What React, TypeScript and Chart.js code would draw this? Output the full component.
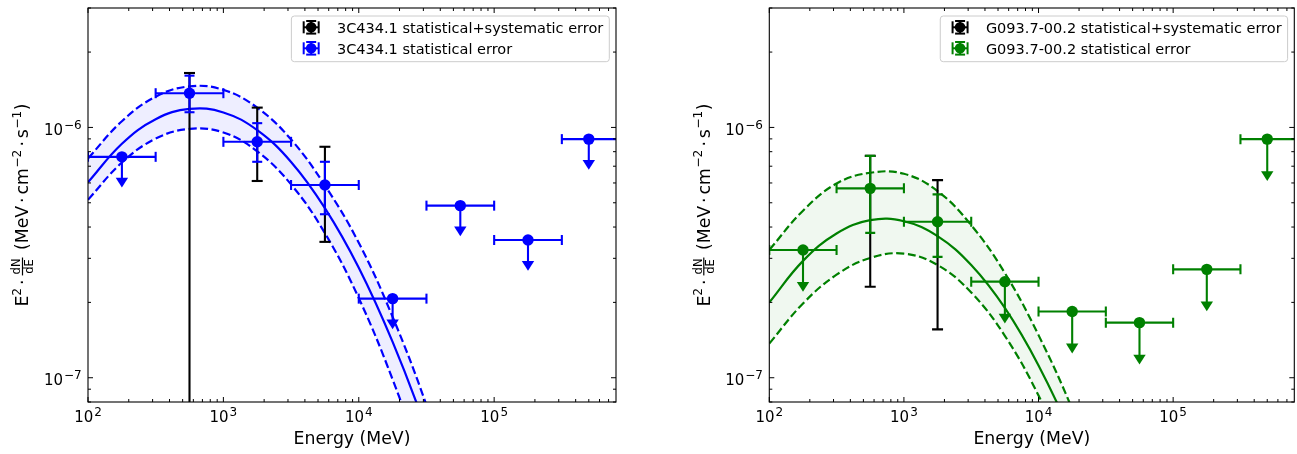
import React, { useEffect, useRef } from "react";
import { Chart, registerables } from "chart.js";

Chart.register(...registerables);

const FONT = "'DejaVu Sans', 'Liberation Sans', sans-serif";

// ---- energy binning (MeV), shared by both sources ----
const energyCenter = [178, 562, 1778, 5623, 17783, 56234, 177828, 500000];
const energyLow = [100, 316, 1000, 3162, 10000, 31623, 100000, 316228];
const energyHigh = [316, 1000, 3162, 10000, 31623, 100000, 316228, 1000000];

// ---- axis ranges / tick decades ----
const xMin = 100;
const xMax = 794328;
const yMin = 8e-8;
const yMax = 3e-6;
const xDecades = [2, 3, 4, 5];
const yDecades = [-7, -6];

// ---- model curve sampling energies (MeV) ----
const modelEnergy = [100, 178, 316, 562, 1000, 1778, 3162, 5623, 10000, 17783, 31623, 56234];

// ---- 3C434.1 ----
const aLabels = ["3C434.1 statistical+systematic error", "3C434.1 statistical error"];
const aFlux = [7.63e-7, 1.37e-6, 8.76e-7, 5.89e-7, 2.07e-7, 4.87e-7, 3.55e-7, 8.98e-7];
const aIsUL = [true, false, false, false, true, true, true, true];
const aStatLow = [null, 1.15e-6, 7.29e-7, 4.5e-7, null, null, null, null];
const aStatHigh = [null, 1.61e-6, 1.04e-6, 7.29e-7, null, null, null, null];
const aTotLow = [null, 1e-10, 6.11e-7, 3.49e-7, null, null, null, null];
const aTotHigh = [null, 1.65e-6, 1.2e-6, 8.37e-7, null, null, null, null];
const aModel = [6.04e-7, 8.61e-7, 1.079e-6, 1.186e-6, 1.148e-6, 9.75e-7, 7.28e-7, 4.76e-7, 2.75e-7, 1.39e-7, 6.18e-8, 2.41e-8];
const aModelHigh = [7.52e-7, 1.059e-6, 1.327e-6, 1.459e-6, 1.413e-6, 1.199e-6, 8.95e-7, 5.86e-7, 3.46e-7, 1.75e-7, 7.78e-8, 3.03e-8];
const aModelLow = [5.14e-7, 7.24e-7, 9.02e-7, 9.86e-7, 9.55e-7, 8.02e-7, 5.92e-7, 3.78e-7, 2.08e-7, 9.84e-8, 4.08e-8, 1.5e-8];

// ---- G093.7-00.2 ----
const bLabels = ["G093.7-00.2 statistical+systematic error", "G093.7-00.2 statistical error"];
const bFlux = [3.24e-7, 5.71e-7, 4.2e-7, 2.42e-7, 1.84e-7, 1.66e-7, 2.71e-7, 8.98e-7];
const bIsUL = [true, false, false, true, true, true, true, true];
const bStatLow = [null, 3.79e-7, 3.04e-7, null, null, null, null, null];
const bStatHigh = [null, 7.7e-7, 5.4e-7, null, null, null, null, null];
const bTotLow = [null, 2.31e-7, 1.56e-7, null, null, null, null, null];
const bTotHigh = [null, 7.7e-7, 6.16e-7, null, null, null, null, null];
const bModel = [2.0e-7, 2.93e-7, 3.77e-7, 4.26e-7, 4.22e-7, 3.68e-7, 2.82e-7, 1.9e-7, 1.12e-7, 5.82e-8, 2.65e-8, 1.1e-8];
const bModelHigh = [3.24e-7, 4.65e-7, 5.97e-7, 6.59e-7, 6.53e-7, 5.57e-7, 4.07e-7, 2.62e-7, 1.48e-7, 7.5e-8, 3.34e-8, 1.4e-8];
const bModelLow = [1.37e-7, 1.98e-7, 2.58e-7, 3.01e-7, 3.13e-7, 2.82e-7, 2.19e-7, 1.47e-7, 8.49e-8, 4.22e-8, 1.79e-8, 7e-9];

type Panel = {
  id: string;
  color: string;
  band: string;
  labels: string[];
  flux: number[];
  isUL: boolean[];
  statLow: (number | null)[];
  statHigh: (number | null)[];
  totLow: (number | null)[];
  totHigh: (number | null)[];
  model: number[];
  modelHigh: number[];
  modelLow: number[];
  ulFactor: number;
};

const panelA: Panel = {
  id: "a", color: "#0000ff", band: "rgba(0,0,255,0.065)", labels: aLabels,
  flux: aFlux, isUL: aIsUL, statLow: aStatLow, statHigh: aStatHigh, totLow: aTotLow, totHigh: aTotHigh,
  model: aModel, modelHigh: aModelHigh, modelLow: aModelLow, ulFactor: 0.754,
};
const panelB: Panel = {
  id: "b", color: "#008000", band: "rgba(0,128,0,0.06)", labels: bLabels,
  flux: bFlux, isUL: bIsUL, statLow: bStatLow, statHigh: bStatHigh, totLow: bTotLow, totHigh: bTotHigh,
  model: bModel, modelHigh: bModelHigh, modelLow: bModelLow, ulFactor: 0.68,
};

function line(ctx: CanvasRenderingContext2D, x1: number, y1: number, x2: number, y2: number) {
  ctx.beginPath();
  ctx.moveTo(x1, y1);
  ctx.lineTo(x2, y2);
  ctx.stroke();
}

function vBar(ctx: CanvasRenderingContext2D, x: number, y1: number, y2: number, cap: number) {
  line(ctx, x, y1, x, y2);
  line(ctx, x - cap, y1, x + cap, y1);
  line(ctx, x - cap, y2, x + cap, y2);
}

function drawErrorBars(chart: any, p: Panel) {
  const { ctx, chartArea: a } = chart;
  const xs = chart.scales.x;
  const ys = chart.scales.y;
  const cap = 5;
  ctx.save();
  ctx.beginPath();
  ctx.rect(a.left, a.top, a.right - a.left, a.bottom - a.top);
  ctx.clip();
  ctx.lineWidth = 2.1;
  ctx.lineCap = "butt";
  // statistical + systematic (black)
  ctx.strokeStyle = "#000000";
  for (let i = 0; i < energyCenter.length; i++) {
    const lo = p.totLow[i];
    const hi = p.totHigh[i];
    if (p.isUL[i] || lo == null || hi == null) continue;
    const x = xs.getPixelForValue(energyCenter[i]);
    vBar(ctx, x, ys.getPixelForValue(lo), ys.getPixelForValue(hi), cap + 0.5);
  }
  // statistical (coloured)
  ctx.strokeStyle = p.color;
  ctx.fillStyle = p.color;
  for (let i = 0; i < energyCenter.length; i++) {
    const x = xs.getPixelForValue(energyCenter[i]);
    const y = ys.getPixelForValue(p.flux[i]);
    const xl = xs.getPixelForValue(energyLow[i]);
    const xh = xs.getPixelForValue(energyHigh[i]);
    line(ctx, xl, y, xh, y);
    line(ctx, xl, y - cap, xl, y + cap);
    line(ctx, xh, y - cap, xh, y + cap);
    if (p.isUL[i]) {
      const tip = ys.getPixelForValue(p.flux[i] * p.ulFactor);
      line(ctx, x, y, x, tip - 8);
      ctx.beginPath();
      ctx.moveTo(x - 6.2, tip - 9.8);
      ctx.lineTo(x + 6.2, tip - 9.8);
      ctx.lineTo(x, tip);
      ctx.closePath();
      ctx.fill();
    } else {
      const lo = p.statLow[i];
      const hi = p.statHigh[i];
      if (lo != null && hi != null) vBar(ctx, x, ys.getPixelForValue(lo), ys.getPixelForValue(hi), cap);
    }
  }
  ctx.restore();
}

function num(m: number, e: number) {
  return Number(`${m}e${e}`);
}

function drawPow10(ctx: CanvasRenderingContext2D, exp: number, x: number, baseline: number, align: "center" | "right") {
  const base = "10";
  const e = exp < 0 ? "\u2212" + String(-exp) : String(exp);
  ctx.font = `15px ${FONT}`;
  const wb = ctx.measureText(base).width;
  ctx.font = `12px ${FONT}`;
  const we = ctx.measureText(e).width;
  const gap = 1;
  const total = wb + gap + we;
  const x0 = align === "center" ? x - total / 2 : x - total;
  ctx.textAlign = "left";
  ctx.textBaseline = "alphabetic";
  ctx.font = `15px ${FONT}`;
  ctx.fillText(base, x0, baseline);
  ctx.font = `12px ${FONT}`;
  ctx.fillText(e, x0 + wb + gap, baseline - 6);
}

function drawFrame(chart: any) {
  const { ctx, chartArea: a } = chart;
  const xs = chart.scales.x;
  const ys = chart.scales.y;
  ctx.save();
  ctx.strokeStyle = "#000000";
  ctx.lineWidth = 1.1;
  ctx.strokeRect(a.left, a.top, a.right - a.left, a.bottom - a.top);
  ctx.lineWidth = 1;
  for (let e = 1; e <= 6; e++) {
    for (let m = 1; m <= 9; m++) {
      const v = num(m, e);
      if (v < xMin * 0.999 || v > xMax * 1.001) continue;
      const px = xs.getPixelForValue(v);
      const len = m === 1 ? 5 : 3;
      line(ctx, px, a.bottom, px, a.bottom - len);
      line(ctx, px, a.top, px, a.top + len);
    }
  }
  for (let e = -9; e <= -5; e++) {
    for (let m = 1; m <= 9; m++) {
      const v = num(m, e);
      if (v < yMin * 0.999 || v > yMax * 1.001) continue;
      const py = ys.getPixelForValue(v);
      const len = m === 1 ? 5 : 3;
      line(ctx, a.left, py, a.left + len, py);
      line(ctx, a.right, py, a.right - len, py);
    }
  }
  ctx.fillStyle = "#000000";
  for (const d of xDecades) {
    drawPow10(ctx, d, xs.getPixelForValue(num(1, d)), a.bottom + 19.7, "center");
  }
  for (const d of yDecades) {
    drawPow10(ctx, d, a.left - 6.3, ys.getPixelForValue(num(1, d)) + 7.7, "right");
  }
  ctx.restore();
}

type Piece = { t: string; size: number; dy: number; padL?: number; padR?: number } | { frac: [string, string] };

function drawAxisLabels(chart: any) {
  const { ctx, chartArea: a } = chart;
  ctx.save();
  ctx.fillStyle = "#000000";
  ctx.font = `17.3px ${FONT}`;
  ctx.textAlign = "center";
  ctx.textBaseline = "alphabetic";
  ctx.fillText("Energy (MeV)", (a.left + a.right) / 2, a.bottom + 42);

  const M = 17.3;
  const S = 12.2;
  const F = 11.5;
  const pieces: Piece[] = [
    { t: "E", size: M, dy: 0 },
    { t: "2", size: S, dy: -7.5 },
    { t: "\u00b7", size: M, dy: 0, padL: 3, padR: 3 },
    { frac: ["dN", "dE"] },
    { t: " (MeV", size: M, dy: 0, padL: 1 },
    { t: "\u00b7", size: M, dy: 0, padL: 3, padR: 3 },
    { t: "cm", size: M, dy: 0 },
    { t: "\u22122", size: S, dy: -7.5, padL: 0.5 },
    { t: "\u00b7", size: M, dy: 0, padL: 3, padR: 3 },
    { t: "s", size: M, dy: 0 },
    { t: "\u22121", size: S, dy: -7.5, padL: 0.5 },
    { t: ")", size: M, dy: 0, padL: 0.5 },
  ];
  const widths = pieces.map((pc) => {
    if ("frac" in pc) {
      ctx.font = `${F}px ${FONT}`;
      return Math.max(ctx.measureText(pc.frac[0]).width, ctx.measureText(pc.frac[1]).width) + 4;
    }
    ctx.font = `${pc.size}px ${FONT}`;
    return ctx.measureText(pc.t).width + (pc.padL || 0) + (pc.padR || 0);
  });
  const total = widths.reduce((s, w) => s + w, 0);
  ctx.translate(a.left - 59.7, (a.top + a.bottom) / 2);
  ctx.rotate(-Math.PI / 2);
  ctx.textAlign = "left";
  let u = -total / 2;
  pieces.forEach((pc, i) => {
    if ("frac" in pc) {
      const w = widths[i];
      const axis = -5.8;
      ctx.font = `${F}px ${FONT}`;
      ctx.textAlign = "center";
      ctx.fillText(pc.frac[0], u + w / 2, axis - 2.2);
      ctx.fillText(pc.frac[1], u + w / 2, axis + 2.2 + 8.4);
      ctx.fillRect(u + 1, axis - 0.6, w - 2, 1.2);
      ctx.textAlign = "left";
    } else {
      ctx.font = `${pc.size}px ${FONT}`;
      ctx.fillText(pc.t, u + (pc.padL || 0), pc.dy);
    }
    u += widths[i];
  });
  ctx.restore();
}

function drawLegendIcon(ctx: CanvasRenderingContext2D, cx: number, cy: number, color: string) {
  ctx.strokeStyle = color;
  ctx.fillStyle = color;
  ctx.lineWidth = 2;
  line(ctx, cx - 7.5, cy, cx + 7.5, cy);
  line(ctx, cx - 7.5, cy - 6, cx - 7.5, cy + 6);
  line(ctx, cx + 7.5, cy - 6, cx + 7.5, cy + 6);
  vBar(ctx, cx, cy - 6.3, cy + 6.3, 5);
  ctx.beginPath();
  ctx.arc(cx, cy, 5.3, 0, Math.PI * 2);
  ctx.fill();
}

function drawLegend(chart: any, p: Panel) {
  const { ctx, chartArea: a } = chart;
  ctx.save();
  const font = `14.5px ${FONT}`;
  ctx.font = font;
  const w = Math.max(...p.labels.map((l) => ctx.measureText(l).width));
  const boxRight = a.right - 6.7;
  const textLeft = boxRight - 6 - w;
  const iconCx = textLeft - 25.8;
  const boxLeft = iconCx - 19.8;
  const boxTop = a.top + 8;
  const boxBottom = a.top + 53.7;
  const r = 3;
  ctx.beginPath();
  ctx.moveTo(boxLeft + r, boxTop);
  ctx.lineTo(boxRight - r, boxTop);
  ctx.quadraticCurveTo(boxRight, boxTop, boxRight, boxTop + r);
  ctx.lineTo(boxRight, boxBottom - r);
  ctx.quadraticCurveTo(boxRight, boxBottom, boxRight - r, boxBottom);
  ctx.lineTo(boxLeft + r, boxBottom);
  ctx.quadraticCurveTo(boxLeft, boxBottom, boxLeft, boxBottom - r);
  ctx.lineTo(boxLeft, boxTop + r);
  ctx.quadraticCurveTo(boxLeft, boxTop, boxLeft + r, boxTop);
  ctx.closePath();
  ctx.fillStyle = "rgba(255,255,255,0.8)";
  ctx.fill();
  ctx.strokeStyle = "#cccccc";
  ctx.lineWidth = 1;
  ctx.stroke();
  const rows = [a.top + 19.3, a.top + 40.3];
  const colors = ["#000000", p.color];
  rows.forEach((cy, i) => {
    drawLegendIcon(ctx, iconCx, cy, colors[i]);
    ctx.fillStyle = "#000000";
    ctx.font = font;
    ctx.textAlign = "left";
    ctx.textBaseline = "alphabetic";
    ctx.fillText(p.labels[i], textLeft, cy + 5.3);
  });
  ctx.restore();
}

function makePlugin(p: Panel) {
  return {
    id: "sed-" + p.id,
    beforeDatasetDraw(chart: any, args: any) {
      const ds = chart.data.datasets[args.index];
      if (ds && ds.isMarkers) drawErrorBars(chart, p);
    },
    afterDraw(chart: any) {
      drawFrame(chart);
      drawAxisLabels(chart);
      drawLegend(chart, p);
    },
  };
}

function buildConfig(p: Panel, padding: { left: number; right: number; top: number; bottom: number }): any {
  const curve = (vals: number[], dashed: boolean, fill: any) => ({
    type: "line",
    data: modelEnergy.map((e, i) => ({ x: e, y: vals[i] })),
    borderColor: p.color,
    borderWidth: 2.2,
    borderDash: dashed ? [8, 3.5] : [],
    pointRadius: 0,
    tension: 0.4,
    fill,
    backgroundColor: p.band,
    order: 1,
  });
  return {
    type: "line",
    data: {
      datasets: [
        curve(p.modelHigh, true, 2),
        curve(p.model, false, false),
        curve(p.modelLow, true, false),
        {
          type: "scatter",
          isMarkers: true,
          data: energyCenter.map((e, i) => ({ x: e, y: p.flux[i] })),
          pointRadius: 5.7,
          pointBackgroundColor: p.color,
          pointBorderColor: p.color,
          pointBorderWidth: 0,
          showLine: false,
          order: 0,
        },
      ],
    },
    options: {
      responsive: false,
      animation: false,
      devicePixelRatio: 1,
      events: [],
      layout: { padding },
      plugins: { legend: { display: false }, tooltip: { enabled: false } },
      scales: {
        x: { type: "logarithmic", min: xMin, max: xMax, display: false },
        y: { type: "logarithmic", min: yMin, max: yMax, display: false },
      },
    },
    plugins: [makePlugin(p)],
  };
}

function PanelChart({ p, left, padding }: { p: Panel; left: number; padding: any }) {
  const ref = useRef<HTMLCanvasElement>(null);
  useEffect(() => {
    const chart = new Chart(ref.current as HTMLCanvasElement, buildConfig(p, padding));
    return () => chart.destroy();
  }, []);
  return (
    <canvas
      ref={ref}
      width={650}
      height={454}
      style={{ position: "absolute", left, top: 0, width: 650, height: 454 }}
    />
  );
}

export default function App() {
  return (
    <div
      style={{
        position: "fixed",
        left: 0,
        top: 0,
        width: 1297,
        height: 454,
        overflow: "hidden",
        background: "#ffffff",
      }}
    >
      <PanelChart p={panelA} left={0} padding={{ left: 88, right: 34, top: 8, bottom: 52 }} />
      <PanelChart p={panelB} left={650} padding={{ left: 119.3, right: 2, top: 8, bottom: 52 }} />
    </div>
  );
}
